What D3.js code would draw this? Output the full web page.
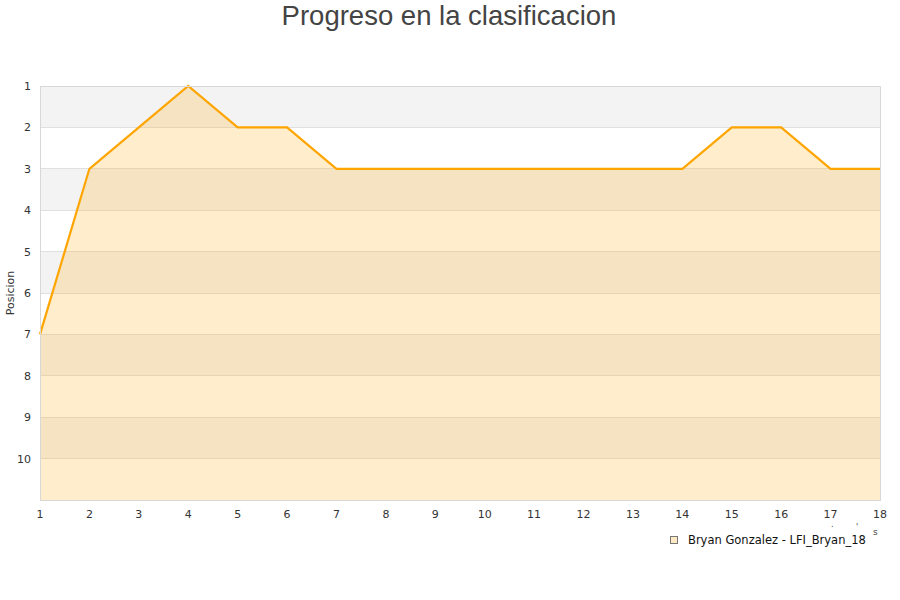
<!DOCTYPE html>
<html><head><meta charset="utf-8">
<script src="https://cdn.jsdelivr.net/npm/d3@7"></script>
<style>body{margin:0;background:#fff;} svg{display:block;}</style>
</head><body>
<svg id="c" width="900" height="600"></svg>
<script>
const jornadas = [1,2,3,4,5,6,7,8,9,10,11,12,13,14,15,16,17,18];
const posiciones = [7,3,2,1,2,2,3,3,3,3,3,3,3,3,2,2,3,3];
const yTicks = [1,2,3,4,5,6,7,8,9,10];
const seriesName = "Bryan Gonzalez - LFI_Bryan_18";
const title = "Progreso en la clasificacion";
const yTitle = "Posicion";

const svg = d3.select("#c");
const m = {l:40, r:880, t:86, b:500};
const x = d3.scaleLinear().domain([1,18]).range([m.l, m.r]);
const y = d3.scaleLinear().domain([1,11]).range([m.t, m.b]);

const bands = d3.range(1, 11);
svg.append("g").selectAll("rect").data(bands).join("rect")
  .attr("x", m.l).attr("width", m.r - m.l)
  .attr("y", d => y(d)).attr("height", d => y(d+1) - y(d))
  .attr("fill", (d,i) => i % 2 === 0 ? "#f3f3f3" : "#ffffff");

svg.append("g").selectAll("line").data(yTicks.slice(1)).join("line")
  .attr("x1", m.l).attr("x2", m.r)
  .attr("y1", d => y(d)).attr("y2", d => y(d))
  .attr("stroke", "#e0e0e0").attr("stroke-width", 1).attr("shape-rendering","crispEdges");

const area = d3.area().x((d,i) => x(jornadas[i])).y0(m.b).y1(d => y(d));
svg.append("path").datum(posiciones).attr("d", area)
  .attr("fill", "rgb(255,165,0)").attr("fill-opacity", 0.2);

const line = d3.line().x((d,i) => x(jornadas[i])).y(d => y(d));
svg.append("path").datum(posiciones).attr("d", line)
  .attr("fill", "none").attr("stroke", "#ffa500").attr("stroke-width", 2.2)
  .attr("stroke-linejoin", "miter");

svg.append("rect").attr("x", m.l+0.5).attr("y", m.t+0.5)
  .attr("width", m.r - m.l).attr("height", m.b - m.t)
  .attr("fill", "none").attr("stroke", "#d8d8d8").attr("stroke-width", 1);

svg.append("g").selectAll("text").data(yTicks).join("text")
  .attr("x", 31).attr("y", d => y(d) + 4)
  .attr("text-anchor", "end")
  .attr("font-family", "DejaVu Sans, sans-serif").attr("font-size", 11)
  .attr("fill", "#333").text(d => d);

svg.append("g").selectAll("text").data(jornadas).join("text")
  .attr("x", d => x(d)).attr("y", 518)
  .attr("text-anchor", "middle")
  .attr("font-family", "DejaVu Sans, sans-serif").attr("font-size", 11)
  .attr("fill", "#333").text(d => d);

svg.append("text").attr("x", 831).attr("y", 527).attr("font-family","DejaVu Sans, sans-serif")
  .attr("font-size", 8).attr("fill", "#444").text(".");
svg.append("text").attr("x", 856).attr("y", 530).attr("font-family","DejaVu Sans, sans-serif")
  .attr("font-size", 8).attr("fill", "#444").text("'");
svg.append("text").attr("x", 873).attr("y", 535).attr("font-family","DejaVu Sans, sans-serif")
  .attr("font-size", 9).attr("fill", "#444").text("s");

svg.append("text").attr("transform", "translate(14,293) rotate(-90)")
  .attr("text-anchor", "middle")
  .attr("font-family", "DejaVu Sans, sans-serif").attr("font-size", 11)
  .attr("fill", "#333").text(yTitle);

svg.append("text").attr("x", 449).attr("y", 25)
  .attr("text-anchor", "middle")
  .attr("font-family", "Liberation Sans, Arial, sans-serif").attr("font-size", 27.5)
  .attr("fill", "#444").text(title);

svg.append("rect").attr("x", 670.5).attr("y", 536.5).attr("width", 7).attr("height", 7)
  .attr("fill", "#fde9c4").attr("stroke", "#777").attr("stroke-width", 1);
svg.append("text").attr("x", 688).attr("y", 544)
  .attr("font-family", "DejaVu Sans, sans-serif").attr("font-size", 11.5)
  .attr("fill", "#111").text(seriesName);
</script>
</body></html>
